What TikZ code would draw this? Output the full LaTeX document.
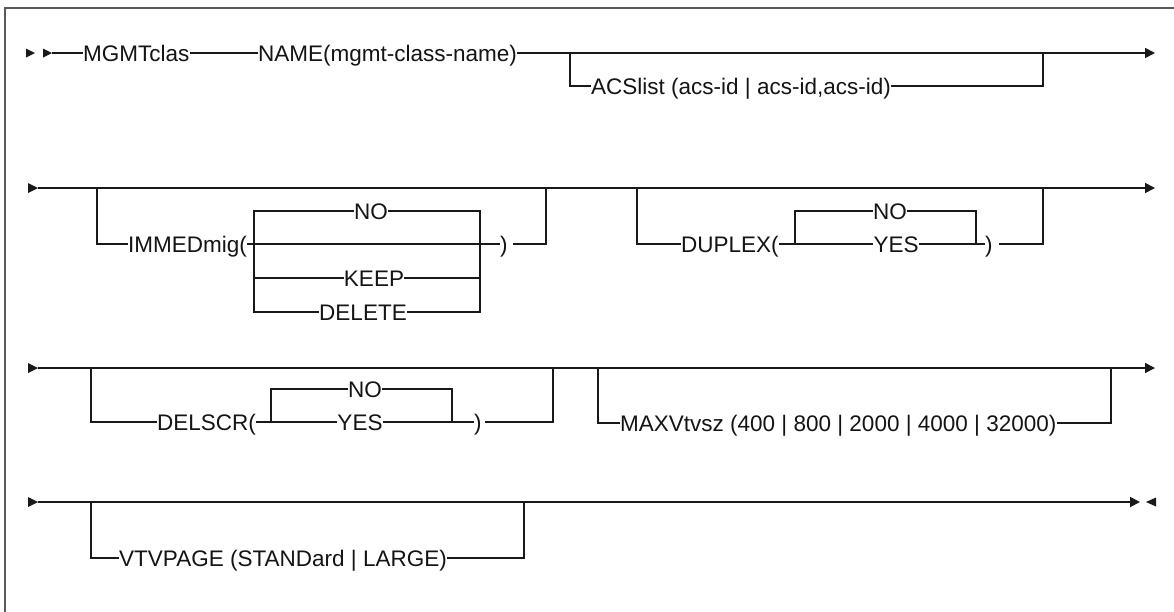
\documentclass[tikz,border=0pt]{standalone}
\usepackage{fontspec}
\setmainfont{Liberation Sans}
\usetikzlibrary{arrows.meta}
\begin{document}
\begin{tikzpicture}[x=1pt,y=-1pt,
  lbl/.style={anchor=west,inner xsep=0pt,inner ysep=0pt,text height=16pt,text depth=0pt,
              font=\fontsize{22.5}{27}\selectfont,text=black!92},
  opt/.style={lbl,anchor=center},
  rparen/.style={lbl,inner xsep=0pt,append after command={}},
  rail/.style={line width=1.7pt,draw=black!90},
  endarr/.style={-{Triangle[length=10pt,width=10pt]}},
  frame/.style={line width=2.2pt,draw=black!65},
  tipmark/.style={fill=black!90}]
\useasboundingbox (0,0) rectangle (1174,611);
\fill[white] (0,0) rectangle (1174,611);
% frame
\coordinate (fbl) at (5,612);
\coordinate (ftl) at (5,8);
\coordinate (ftr) at (1175,8);
\draw[frame] (fbl) -- (ftl) -- (ftr);

% ---------------- row 1
\fill[tipmark] (26,48.5) -- (35,53) -- (26,57.5) -- cycle;
\fill[tipmark] (43,48.5) -- (52,53) -- (43,57.5) -- cycle;
\coordinate (r1s) at (52,53);
\coordinate (r1e) at (1155,53);
\node[lbl] (mgmt) at (83,53) {MGMTclas};
\node[lbl] (name) at (258,53) {NAME(mgmt-class-name)};
\draw[rail] (r1s) -- (mgmt.west);
\draw[rail] (mgmt.east) -- (name.west);
\draw[rail,endarr] (name.east) -- (r1e);
\coordinate (b1a) at (570,53);
\coordinate (b1b) at (1043,53);
\node[lbl] (acs) at (591,86) {ACSlist (acs-id | acs-id,acs-id)};
\draw[rail] (b1a) |- (acs.west);
\draw[rail] (acs.east) -| (b1b);

% ---------------- row 2
\fill[tipmark] (28,183) -- (38,188) -- (28,193) -- cycle;
\coordinate (r2s) at (38,188);
\coordinate (r2e) at (1155,188);
\draw[rail,endarr] (r2s) -- (r2e);
% IMMEDmig
\coordinate (b2a) at (97,188);
\coordinate (b2b) at (546,188);
\node[lbl] (imm) at (128,244) {IMMEDmig(};
\node[opt] (ino) at (371,211) {NO};
\node[opt] (ikeep) at (374,278) {KEEP};
\node[opt] (idel) at (363,312) {DELETE};
\node[lbl] (rp2) at (500,244) {)};
\coordinate (rp2g) at (513,244);
\coordinate (i2l) at (254,312);
\coordinate (i2r) at (480,312);
\coordinate (i2lk) at (254,278);
\coordinate (i2rk) at (480,278);
\draw[rail] (b2a) |- (imm.west);
\draw[rail] (imm.east) -- (rp2.west);
\draw[rail] (ino.west) -| (i2l) -- (idel.west);
\draw[rail] (ino.east) -| (i2r) -- (idel.east);
\draw[rail] (i2lk) -- (ikeep.west);
\draw[rail] (ikeep.east) -- (i2rk);
\draw[rail] (rp2g) -| (b2b);
% DUPLEX
\coordinate (b2c) at (637,188);
\coordinate (b2d) at (1043,188);
\node[lbl] (dup) at (681,244) {DUPLEX(};
\node[opt] (dno) at (890,211) {NO};
\node[opt] (dyes) at (896,244) {YES};
\node[lbl] (rp3) at (985,244) {)};
\coordinate (rp3g) at (999,244);
\coordinate (d2l) at (795,244);
\coordinate (d2r) at (976,244);
\draw[rail] (b2c) |- (dup.west);
\draw[rail] (dup.east) -- (dyes.west);
\draw[rail] (d2l) |- (dno.west);
\draw[rail] (dno.east) -| (d2r);
\draw[rail] (dyes.east) -- (rp3.west);
\draw[rail] (rp3g) -| (b2d);

% ---------------- row 3
\fill[tipmark] (28,363) -- (38,368) -- (28,373) -- cycle;
\coordinate (r3s) at (38,368);
\coordinate (r3e) at (1155,368);
\draw[rail,endarr] (r3s) -- (r3e);
% DELSCR
\coordinate (b3a) at (91,368);
\coordinate (b3b) at (553,368);
\node[lbl] (dsc) at (157,422) {DELSCR(};
\node[opt] (sno) at (365,389) {NO};
\node[opt] (syes) at (360,422) {YES};
\node[lbl] (rp4) at (474,422) {)};
\coordinate (rp4g) at (485,422);
\coordinate (s3l) at (271,422);
\coordinate (s3r) at (452,422);
\draw[rail] (b3a) |- (dsc.west);
\draw[rail] (dsc.east) -- (syes.west);
\draw[rail] (s3l) |- (sno.west);
\draw[rail] (sno.east) -| (s3r);
\draw[rail] (syes.east) -- (rp4.west);
\draw[rail] (rp4g) -| (b3b);
% MAXVtvsz
\coordinate (b3c) at (598,368);
\coordinate (b3d) at (1111,368);
\node[lbl] (maxv) at (620,423) {MAXVtvsz (400 | 800 | 2000 | 4000 | 32000)};
\draw[rail] (b3c) |- (maxv.west);
\draw[rail] (maxv.east) -| (b3d);

% ---------------- row 4
\fill[tipmark] (28,497) -- (38,502) -- (28,507) -- cycle;
\coordinate (r4s) at (38,502);
\coordinate (r4e) at (1140,502);
\draw[rail,endarr] (r4s) -- (r4e);
\fill[tipmark] (1156,497.5) -- (1146,502) -- (1156,506.5) -- cycle;
\coordinate (b4a) at (91,502);
\coordinate (b4b) at (524,502);
\node[lbl] (vtv) at (119,558) {VTVPAGE (STANDard | LARGE)};
\draw[rail] (b4a) |- (vtv.west);
\draw[rail] (vtv.east) -| (b4b);
\end{tikzpicture}
\end{document}
